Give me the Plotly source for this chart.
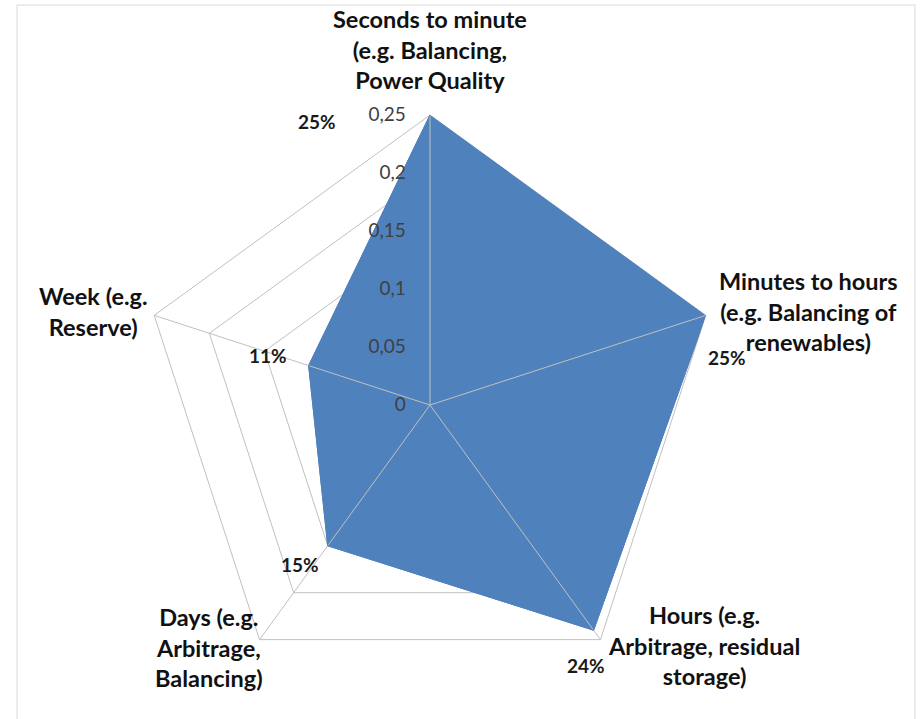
import math
import plotly.graph_objects as go

# Storage application categories (clockwise from the top)
categories = [
    "Seconds to minute<br>(e.g. Balancing,<br>Power Quality",
    "Minutes to hours<br>(e.g. Balancing of<br>renewables)",
    "Hours (e.g.<br>Arbitrage, residual<br>storage)",
    "Days (e.g.<br>Arbitrage,<br>Balancing)",
    "Week (e.g.<br>Reserve)",
]
shares = [0.25, 0.25, 0.24, 0.15, 0.11]
share_labels = ["25%", "25%", "24%", "15%", "11%"]
radial_ticks = [0, 0.05, 0.10, 0.15, 0.20, 0.25]
r_max = 0.25

FILL = "#4F81BD"
GRID = "#C0C0C0"
FONT = "Lato, 'Open Sans', sans-serif"

W, H = 920, 719
# Polar plot area: centre and radius in pixels
CX, CY, R = 430, 405, 290
dom_x = [(CX - R) / W, (CX + R) / W]
dom_y = [(H - CY - R) / H, (H - CY + R) / H]

n = len(categories)


def polar_to_paper(r, i):
    """Paper coordinates of radius r on the i-th spoke (clockwise from top)."""
    a = math.radians(90 - 360.0 * i / n)
    px = CX + r / r_max * R * math.cos(a)
    py = CY - r / r_max * R * math.sin(a)
    return px / W, 1 - py / H


# Category label placement: anchor side and pixel nudges from the spoke end
cat_anchor = [("center", "bottom"), ("left", "middle"), ("left", "middle"),
              ("right", "middle"), ("right", "middle")]
cat_shift = [(0, 19), (11, 4), (6, -6), (5, -8), (-4, 4)]

# Data-label nudges (pixels) from each data point
label_shift = [(-113, -7), (21, -42), (-8, -35), (-28, -19), (-41, 10)]

fig = go.Figure()

# Filled series area (drawn above the polygon gridlines)
fig.add_trace(go.Scatterpolar(
    r=shares + shares[:1],
    theta=categories + categories[:1],
    mode="lines",
    fill="toself",
    fillcolor=FILL,
    line=dict(color=FILL, width=1),
    subplot="polar",
    showlegend=False,
    hoverinfo="skip",
))

# Series outline on the overlay layer (carries the spokes above the fill)
fig.add_trace(go.Scatterpolar(
    r=shares + shares[:1],
    theta=categories + categories[:1],
    mode="lines",
    line=dict(color=FILL, width=1),
    subplot="polar2",
    showlegend=False,
    hoverinfo="skip",
))

fig.update_layout(
    width=W,
    height=H,
    margin=dict(l=0, r=0, t=0, b=0),
    paper_bgcolor="white",
    separators=", ",
    showlegend=False,
    # Base layer: polygon gridlines under the fill
    polar=dict(
        domain=dict(x=dom_x, y=dom_y),
        bgcolor="white",
        gridshape="linear",
        radialaxis=dict(
            range=[0, r_max],
            tickvals=radial_ticks,
            showticklabels=False,
            showline=False,
            ticks="",
            showgrid=True,
            gridcolor=GRID,
            gridwidth=1,
            layer="below traces",
        ),
        angularaxis=dict(
            rotation=90,
            direction="clockwise",
            showticklabels=False,
            showgrid=False,
            showline=True,
            linecolor=GRID,
            linewidth=1,
            ticks="",
            layer="below traces",
        ),
    ),
    # Overlay layer: spokes and radial tick labels above the fill
    polar2=dict(
        domain=dict(x=dom_x, y=dom_y),
        bgcolor="rgba(0,0,0,0)",
        gridshape="linear",
        radialaxis=dict(
            range=[0, r_max],
            tickvals=radial_ticks,
            angle=90,
            side="counterclockwise",
            showticklabels=True,
            tickfont=dict(family=FONT, size=19, color="#404040"),
            showline=False,
            ticks="outside",
            ticklen=17,
            tickcolor="rgba(0,0,0,0)",
            showgrid=False,
            tickangle=90,
            layer="above traces",
        ),
        angularaxis=dict(
            rotation=90,
            direction="clockwise",
            showticklabels=False,
            showgrid=True,
            gridcolor=GRID,
            gridwidth=1,
            showline=False,
            ticks="",
            layer="above traces",
        ),
    ),
)

# Category labels at the spoke ends
for i, name in enumerate(categories):
    x, y = polar_to_paper(r_max, i)
    xa, ya = cat_anchor[i]
    fig.add_annotation(
        x=x, y=y, xref="paper", yref="paper",
        text=name, showarrow=False, align="center",
        xanchor=xa, yanchor=ya,
        xshift=cat_shift[i][0], yshift=cat_shift[i][1],
        font=dict(family=FONT, size=23.5, color="#111111", weight="bold"),
    )

# Percentage data labels next to each data point
for i, (v, txt) in enumerate(zip(shares, share_labels)):
    x, y = polar_to_paper(v, i)
    fig.add_annotation(
        x=x, y=y, xref="paper", yref="paper",
        text=txt, showarrow=False,
        xanchor="center", yanchor="middle",
        xshift=label_shift[i][0], yshift=label_shift[i][1],
        font=dict(family=FONT, size=19, color="#1a1a1a", weight="bold"),
    )

# Chart-area border
fig.add_shape(type="rect", xref="paper", yref="paper",
              x0=0.0185, x1=0.9945, y0=-0.01, y1=0.993,
              line=dict(color="#D9D9D9", width=1), fillcolor="rgba(0,0,0,0)")

fig.write_html("out.html")
